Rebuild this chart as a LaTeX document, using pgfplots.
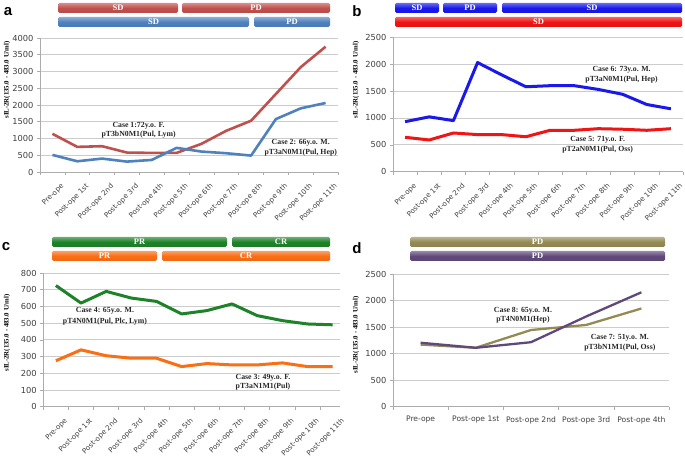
\documentclass[border=0pt]{standalone}
\usepackage{pgfplots}
\pgfplotsset{compat=1.18}
\usepackage{fontspec}
\setmainfont{Liberation Serif}
\newfontfamily\tickfont{DejaVu Sans}
\newfontfamily\letterfont{Liberation Sans}

\definecolor{aRed}{RGB}{192,80,77}
\definecolor{aBlue}{RGB}{79,129,189}
\definecolor{bBlue}{RGB}{25,25,235}
\definecolor{bRed}{RGB}{240,20,20}
\definecolor{cGreen}{RGB}{30,130,40}
\definecolor{cOrange}{RGB}{250,110,20}
\definecolor{dOlive}{RGB}{148,138,84}
\definecolor{dPurple}{RGB}{96,73,122}

\pgfplotsset{
  panel/.style={
    scale only axis, anchor=south west,
    axis x line*=bottom, axis y line*=left,
    axis line style={draw=gray!65, line width=0.8pt, -},
    ymajorgrids, grid style={draw=gray!40, line width=0.8pt},
    tick align=outside, major tick length=3pt, minor tick length=3pt,
    major x tick style={draw=none},
    ytick style={draw=gray!65, line width=0.6pt},
    minor x tick style={draw=gray!65, line width=0.6pt},
    yticklabel style={font=\tickfont\fontsize{8.3}{9}\selectfont, text=black!75},
    xticklabel style={font=\tickfont\fontsize{7.6}{8}\selectfont, text=black!75},
    /pgf/number format/assume math mode=true,
    /pgf/number format/1000 sep={},
    every axis plot/.append style={line width=2.6pt, no markers, line join=round},
  },
  rotlab/.style={xticklabel style={font=\tickfont\fontsize{7.1}{8}\selectfont, xshift=8pt, yshift=-3pt, rotate=45, anchor=north east}},
}
\tikzset{ann/.style={font=\bfseries\fontsize{7.8}{9}\selectfont, align=center, text=black!85, inner sep=0pt}}

\newcommand{\sbar}[5]{%
  \shade[rounded corners=1.5pt, top color=#4!65!white, bottom color=#4!95!black, middle color=#4]
    ({#1},{460-(#3)}) rectangle ({#2},{460-(#3)-10});
  \node[text=white, font=\bfseries\fontsize{8.5}{9}\selectfont, inner sep=0pt]
    at ({(#1+#2)/2},{460-(#3)-5.2}) {#5};
}

\begin{document}
\begin{tikzpicture}[x=1pt,y=1pt]
\path[use as bounding box] (0,0) rectangle (685,460);

% ---------------- panel a ----------------
\begin{axis}[panel, rotlab, at={(40pt,288pt)}, width=298pt, height=134pt,
  xmin=-0.5, xmax=11.5, ymin=0, ymax=4000, ytick={0,500,...,4000},
  xtick={0,...,11}, minor xtick={-0.5,0.5,...,11.5},
  xticklabels={Pre-ope, Post-ope 1st, Post-ope 2nd, Post-ope 3rd, Post-ope 4th, Post-ope 5th, Post-ope 6th, Post-ope 7th, Post-ope 8th, Post-ope 9th, Post-ope 10th, Post-ope 11th}]
\addplot[aRed] coordinates {(0,1140) (1,750) (2,770) (3,580) (4,570) (5,570) (6,840) (7,1230) (8,1530) (9,2330) (10,3130) (11,3740)};
\addplot[aBlue] coordinates {(0,510) (1,320) (2,400) (3,310) (4,360) (5,720) (6,610) (7,560) (8,490) (9,1580) (10,1900) (11,2060)};
\node[ann] at (axis cs:3.47,1250) {Case 1:72y.o. F.\\[0.5pt]pT3bN0M1(Pul, Lym)};
\node[ann] at (axis cs:10.0,731) {Case 2: 66y.o. M.\\[1.5pt]pT3aN0M1(Pul, Hep)};
\end{axis}

% ---------------- panel b ----------------
\begin{axis}[panel, rotlab, at={(393pt,288.3pt)}, width=290pt, height=134.4pt,
  xmin=-0.5, xmax=11.5, ymin=0, ymax=2500, ytick={0,500,...,2500},
  xtick={0,...,11}, minor xtick={-0.5,0.5,...,11.5},
  xticklabels={Pre-ope, Post-ope 1st, Post-ope 2nd, Post-ope 3rd, Post-ope 4th, Post-ope 5th, Post-ope 6th, Post-ope 7th, Post-ope 8th, Post-ope 9th, Post-ope 10th, Post-ope 11th}]
\addplot[bBlue, line width=3pt] coordinates {(0,930) (1,1020) (2,950) (3,2030) (4,1800) (5,1580) (6,1600) (7,1600) (8,1530) (9,1440) (10,1250) (11,1170)};
\addplot[bRed, line width=3pt] coordinates {(0,640) (1,590) (2,720) (3,690) (4,690) (5,650) (6,770) (7,770) (8,800) (9,790) (10,770) (11,800)};
\node[ann] at (axis cs:8.96,1800) {Case 6: 73y.o. M.\\[0.5pt]pT3aN0M1(Pul, Hep)};
\node[ann] at (axis cs:7.97,497) {Case 5: 71y.o. F.\\[1.5pt]pT2aN0M1(Pul, Oss)};
\end{axis}

% ---------------- panel c ----------------
\begin{axis}[panel, rotlab, at={(43.3pt,53.3pt)}, width=296.7pt, height=133.7pt,
  xmin=-0.5, xmax=11.29, ymin=0, ymax=800, ytick={0,100,...,800},
  xtick={0,...,11}, minor xtick={-0.5,0.5,...,11.5},
  xticklabels={Pre-ope, Post-ope 1st, Post-ope 2nd, Post-ope 3rd, Post-ope 4th, Post-ope 5th, Post-ope 6th, Post-ope 7th, Post-ope 8th, Post-ope 9th, Post-ope 10th, Post-ope 11th}]
\addplot[cGreen, line width=3pt] coordinates {(0,725) (1,620) (2,690) (3,650) (4,630) (5,555) (6,575) (7,615) (8,545) (9,515) (10,495) (11,490)};
\addplot[cOrange, line width=3pt] coordinates {(0,275) (1,340) (2,305) (3,290) (4,290) (5,240) (6,258) (7,250) (8,250) (9,262) (10,240) (11,240)};
\node[ann] at (axis cs:1.95,540) {Case 4: 65y.o. M.\\[1.5pt]pT4N0M1(Pul, Plc, Lym)};
\node[ann] at (axis cs:8.23,145) {Case 3: 49y.o. F.\\[0.5pt]pT3aN1M1(Pul)};
\end{axis}

% ---------------- panel d ----------------
\begin{axis}[panel, at={(393pt,53.3pt)}, width=276pt, height=132.7pt,
  xmin=-0.5, xmax=4.5, ymin=0, ymax=2500, ytick={0,500,...,2500},
  xtick={0,...,4}, minor xtick={-0.5,0.5,...,4.5},
  xticklabel style={yshift=-3pt},
  xticklabels={Pre-ope, Post-ope 1st, Post-ope 2nd, Post-ope 3rd, Post-ope 4th}]
\addplot[dOlive, line width=2.3pt] coordinates {(0,1170) (1,1110) (2,1445) (3,1540) (4,1850)};
\addplot[dPurple, line width=2.3pt] coordinates {(0,1205) (1,1110) (2,1215) (3,1700) (4,2155)};
\node[ann] at (axis cs:1.855,1727) {Case 8: 65y.o. M.\\[0.5pt]pT4N0M1(Hep)};
\node[ann] at (axis cs:3.61,1209) {Case 7: 51y.o. M.\\[0.5pt]pT3bN1M1(Pul, Oss)};
\end{axis}

% ---------------- status bars ----------------
\sbar{58}{178}{3}{aRed}{SD}
\sbar{182}{330}{3}{aRed}{PD}
\sbar{58}{249}{17}{aBlue}{SD}
\sbar{254}{330}{17}{aBlue}{PD}

\sbar{395}{439}{3}{bBlue}{SD}
\sbar{443}{497}{3}{bBlue}{PD}
\sbar{502}{682}{3}{bBlue}{SD}
\sbar{395}{682}{17}{bRed}{SD}

\sbar{52}{227}{237}{cGreen}{PR}
\sbar{232}{330}{237}{cGreen}{CR}
\sbar{52}{157}{251}{cOrange}{PR}
\sbar{162}{330}{251}{cOrange}{CR}

\sbar{410}{665}{237}{dOlive}{PD}
\sbar{410}{665}{251}{dPurple}{PD}

% ---------------- panel letters and y labels ----------------
\node[font=\letterfont\bfseries\fontsize{15}{15}\selectfont] at (8,448) {a};
\node[font=\letterfont\bfseries\fontsize{15}{15}\selectfont] at (357,449) {b};
\node[font=\letterfont\bfseries\fontsize{15}{15}\selectfont] at (6,213) {c};
\node[font=\letterfont\bfseries\fontsize{15}{15}\selectfont] at (357,212) {d};

\node[rotate=90, font=\bfseries\fontsize{6.8}{7}\selectfont] at (7,380) {sIL-2R(135.0 - 483.0 U/ml)};
\node[rotate=90, font=\bfseries\fontsize{6.8}{7}\selectfont] at (356,380) {sIL-2R(135.0 - 483.0 U/ml)};
\node[rotate=90, font=\bfseries\fontsize{6.8}{7}\selectfont] at (7,127) {sIL-2R(135.0 - 483.0 U/ml)};
\node[rotate=90, font=\bfseries\fontsize{6.8}{7}\selectfont] at (356,125) {sIL-2R(135.0 - 483.0 U/ml)};
\end{tikzpicture}
\end{document}
